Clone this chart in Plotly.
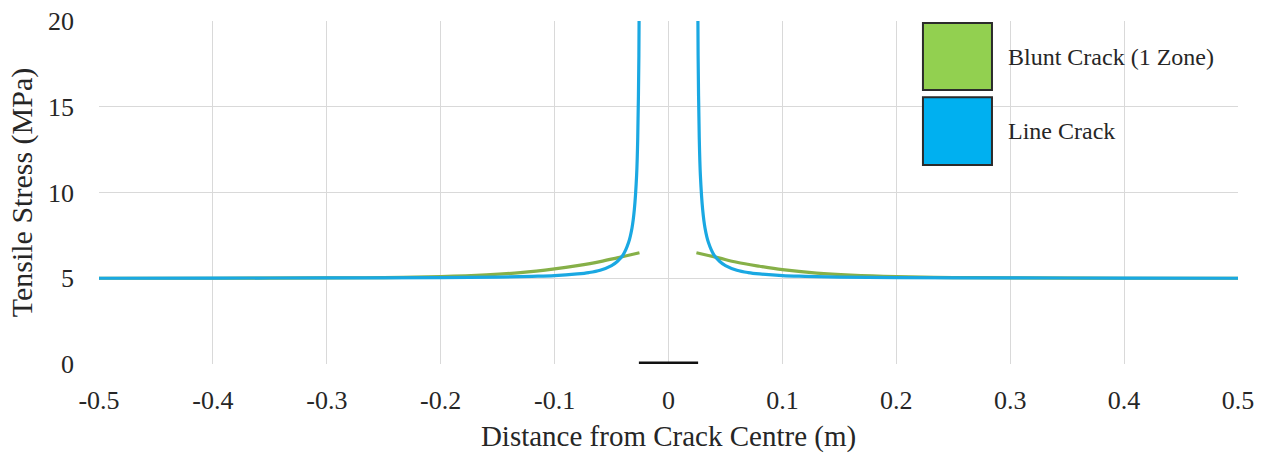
import plotly.graph_objects as go

# Distance from crack centre (m) and tensile stress (MPa)
line_x = [-0.5, -0.4, -0.3, -0.2, -0.15, -0.12, -0.1, -0.08, -0.07, -0.06, -0.05, -0.045,
          -0.04, -0.035, -0.032, -0.03, -0.028, -0.027, -0.026, -0.0258]
line_y = [5.0, 5.01, 5.02, 5.04, 5.07, 5.11, 5.15, 5.25, 5.33, 5.47, 5.74, 5.98,
          6.35, 7.1, 7.95, 9.0, 11.0, 13.2, 18.0, 20.3]
line_x_r = [0.0258, 0.026, 0.027, 0.028, 0.03, 0.032, 0.035, 0.04, 0.045, 0.05, 0.06,
            0.07, 0.08, 0.1, 0.12, 0.15, 0.2, 0.3, 0.4, 0.5]
line_y_r = [20.3, 18.0, 13.2, 11.0, 9.0, 7.95, 7.1, 6.35, 5.98, 5.74, 5.47,
            5.33, 5.25, 5.15, 5.11, 5.07, 5.04, 5.02, 5.01, 5.0]

blunt_x = [-0.5, -0.4, -0.3, -0.25, -0.2, -0.16, -0.13, -0.1, -0.08, -0.06, -0.045, -0.035, -0.0255]
blunt_y = [5.0, 5.0, 5.02, 5.04, 5.1, 5.2, 5.33, 5.55, 5.74, 5.97, 6.19, 6.34, 6.49]
blunt_x_r = [0.0245, 0.035, 0.045, 0.06, 0.08, 0.1, 0.13, 0.16, 0.2, 0.25, 0.3, 0.4, 0.5]
blunt_y_r = [6.49, 6.33, 6.17, 5.93, 5.7, 5.5, 5.3, 5.18, 5.09, 5.04, 5.02, 5.0, 5.0]

crack_x = [-0.026, 0.026]
crack_y = [0, 0]

x_ticks = [-0.5, -0.4, -0.3, -0.2, -0.1, 0, 0.1, 0.2, 0.3, 0.4, 0.5]
x_tick_text = ["-0.5", "-0.4", "-0.3", "-0.2", "-0.1", "0", "0.1", "0.2", "0.3", "0.4", "0.5"]
y_ticks = [0, 5, 10, 15, 20]

series_names = ["Blunt Crack (1 Zone)", "Line Crack"]
series_colors = ["#92D050", "#00B0F0"]
line_colors = ["#86B048", "#1AA8E2"]

FONT = "'Liberation Serif', 'Times New Roman', 'DejaVu Serif', serif"
TXT = "#262626"

fig = go.Figure()
for xs, ys in [(blunt_x, blunt_y), (blunt_x_r, blunt_y_r)]:
    fig.add_trace(go.Scatter(x=xs, y=ys, mode="lines", line=dict(color=line_colors[0], width=3.2, shape="spline"),
                             showlegend=False, hoverinfo="skip"))
for xs, ys in [(line_x, line_y), (line_x_r, line_y_r)]:
    fig.add_trace(go.Scatter(x=xs, y=ys, mode="lines", line=dict(color=line_colors[1], width=3.2, shape="spline"),
                             showlegend=False, hoverinfo="skip"))
fig.add_trace(go.Scatter(x=crack_x, y=crack_y, mode="lines", line=dict(color="#111111", width=5),
                         showlegend=False, hoverinfo="skip", cliponaxis=False))

# custom legend (large filled squares)
boxes = [(0.994, 0.799), (0.778, 0.580)]
for (top, bot), name, col in zip(boxes, series_names, series_colors):
    fig.add_shape(type="rect", xref="paper", yref="paper", x0=0.7234, x1=0.784, y0=bot, y1=top,
                  fillcolor=col, line=dict(color="#2b2b2b", width=2))
    fig.add_annotation(xref="paper", yref="paper", x=0.796, y=(top + bot) / 2, text=name,
                       showarrow=False, xanchor="left", yanchor="middle",
                       font=dict(family=FONT, size=24, color=TXT))

fig.update_layout(
    width=1266, height=455,
    margin=dict(l=99, r=28, t=21, b=91),
    paper_bgcolor="white", plot_bgcolor="white",
    font=dict(family=FONT, color=TXT),
    xaxis=dict(range=[-0.5, 0.5], tickvals=x_ticks, ticktext=x_tick_text, automargin=False,
               showgrid=True, gridcolor="#d9d9d9", gridwidth=1, zeroline=False,
               showline=False, ticks="", ticklabelstandoff=18,
               tickfont=dict(family=FONT, size=26, color=TXT),
               title=dict(text="Distance from Crack Centre (m)", font=dict(family=FONT, size=29, color=TXT),
                          standoff=11)),
    yaxis=dict(range=[0, 20], tickvals=y_ticks, automargin=False,
               showgrid=True, gridcolor="#d9d9d9", gridwidth=1, zeroline=False,
               showline=False, ticks="", ticklabelstandoff=24,
               tickfont=dict(family=FONT, size=26, color=TXT),
               title=dict(text="Tensile Stress (MPa)", font=dict(family=FONT, size=30, color=TXT),
                          standoff=6)),
)

fig.write_html("out.html")
